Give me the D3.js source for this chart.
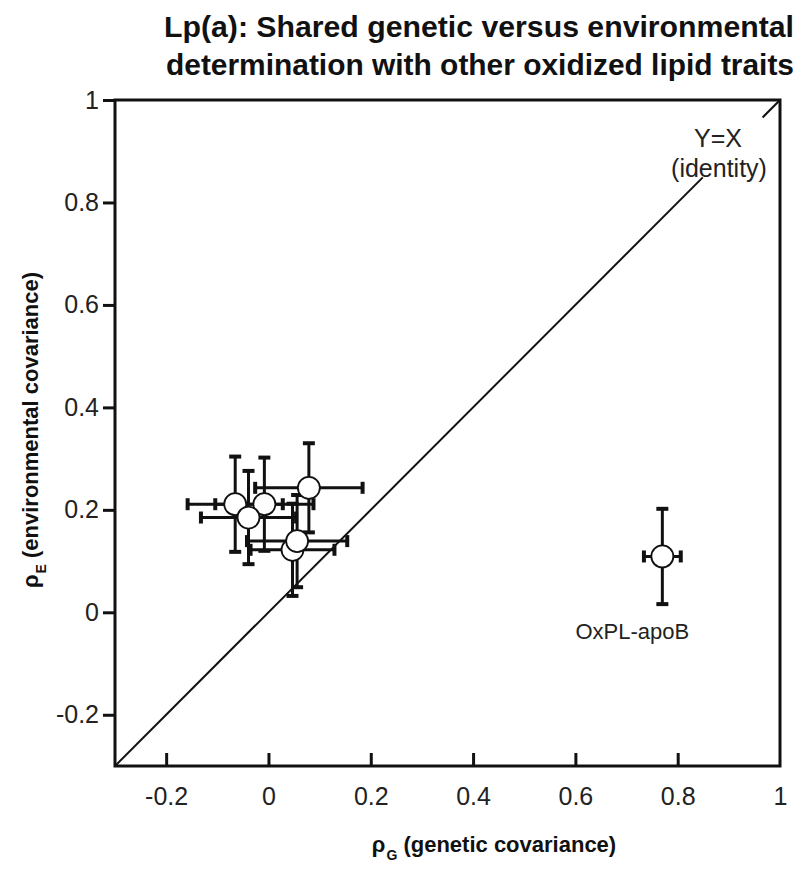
<!DOCTYPE html>
<html><head><meta charset="utf-8">
<script src="https://cdn.jsdelivr.net/npm/d3@7"></script>
<style>body{margin:0;background:#fff}svg{display:block}text{font-family:"Liberation Sans",Arial,Helvetica,sans-serif}</style>
</head><body><svg id="c" width="800" height="870"></svg>
<script>
// Data
const traits = ["T1","T2","T3","T4","T5","T6","OxPL-apoB"];
const rhoG   = [-0.065,-0.008,-0.039,0.079,0.047,0.056,0.770];
const rhoGerr= [0.093,0.096,0.093,0.105,0.082,0.098,0.036];
const rhoE   = [0.211,0.211,0.185,0.243,0.122,0.139,0.109];
const rhoEerr= [0.093,0.091,0.091,0.087,0.090,0.090,0.093];
const tickVals = [-0.2,0,0.2,0.4,0.6,0.8,1];
const tickLabels = ["-0.2","0","0.2","0.4","0.6","0.8","1"];
const domain = [-0.3,1];

const svg = d3.select("#c");
const L=115,R=780,T=100,B=766;
const x = d3.scaleLinear().domain(domain).range([L,R]);
const y = d3.scaleLinear().domain(domain).range([B,T]);
const fmt = d => tickLabels[tickVals.indexOf(d)];

// Title
const title = ["Lp(a): Shared genetic versus environmental","determination with other oxidized lipid traits"];
svg.selectAll("text.title").data(title).join("text").attr("class","title")
  .attr("x",794).attr("y",(d,i)=>37+i*38).attr("text-anchor","end")
  .attr("font-size",30).attr("font-weight","bold").attr("fill","#111")
  .attr("textLength",(d,i)=>i===0?630:628).attr("lengthAdjust","spacingAndGlyphs")
  .text(d=>d);

// identity line with gap for label
const g = svg.append("g");
const seg = [[domain[0],0.849],[0.966,domain[1]]];
g.selectAll("line.id").data(seg).join("line").attr("class","id")
  .attr("x1",d=>x(d[0])).attr("y1",d=>y(d[0])).attr("x2",d=>x(d[1])).attr("y2",d=>y(d[1]))
  .attr("stroke","#111").attr("stroke-width",2);
g.append("text").attr("x",718).attr("y",147).attr("text-anchor","middle").attr("font-size",25).attr("fill","#222").text("Y=X");
g.append("text").attr("x",719).attr("y",177).attr("text-anchor","middle").attr("font-size",25).attr("fill","#222").text("(identity)");

// Axes
const xAxis = d3.axisBottom(x).tickValues(tickVals).tickSize(-13).tickPadding(21).tickFormat(fmt);
const yAxis = d3.axisLeft(y).tickValues(tickVals).tickSize(12).tickPadding(4).tickFormat(fmt);
const gx = svg.append("g").attr("transform",`translate(0,${B})`).call(xAxis);
const gy = svg.append("g").attr("transform",`translate(${L},0)`).call(yAxis);
[gx,gy].forEach(a=>{
  a.select(".domain").remove();
  a.selectAll(".tick line").attr("stroke","#111").attr("stroke-width",3);
  a.selectAll(".tick text").attr("font-size",25).attr("fill","#222").attr("font-family","Liberation Sans, Arial, sans-serif");
});
gx.selectAll(".tick").filter(d=>d===1).select("line").remove();
// frame
svg.append("rect").attr("x",L).attr("y",T).attr("width",R-L).attr("height",B-T)
  .attr("fill","none").attr("stroke","#111").attr("stroke-width",3);

// error bars
const idx = d3.range(traits.length);
const eb = svg.append("g").attr("stroke","#111");
const cap = 6;
idx.forEach(i=>{
  const cx=x(rhoG[i]), cy=y(rhoE[i]);
  const x0=x(rhoG[i]-rhoGerr[i]), x1=x(rhoG[i]+rhoGerr[i]);
  const y0=y(rhoE[i]-rhoEerr[i]), y1=y(rhoE[i]+rhoEerr[i]);
  eb.append("line").attr("x1",x0).attr("x2",x1).attr("y1",cy).attr("y2",cy).attr("stroke-width",3);
  eb.append("line").attr("x1",cx).attr("x2",cx).attr("y1",y0).attr("y2",y1).attr("stroke-width",3);
  [x0,x1].forEach(v=>eb.append("line").attr("x1",v).attr("x2",v).attr("y1",cy-cap).attr("y2",cy+cap).attr("stroke-width",4));
  [y0,y1].forEach(v=>eb.append("line").attr("y1",v).attr("y2",v).attr("x1",cx-cap).attr("x2",cx+cap).attr("stroke-width",4));
});
// points
svg.append("g").selectAll("circle").data(idx).join("circle")
  .attr("cx",i=>x(rhoG[i])).attr("cy",i=>y(rhoE[i])).attr("r",11)
  .attr("fill","#fff").attr("stroke","#111").attr("stroke-width",1.8);

// point label
svg.append("text").attr("x",x(rhoG[6])-30).attr("y",y(rhoE[6])+83).attr("text-anchor","middle")
  .attr("font-size",22).attr("fill","#222").text(traits[6]);

// axis titles
const xt = svg.append("text").attr("x",494).attr("y",852).attr("text-anchor","middle").attr("font-size",22).attr("font-weight","bold").attr("fill","#111");
xt.append("tspan").text("ρ");
xt.append("tspan").attr("font-size",14).attr("dy",8).attr("dx",1).text("G");
xt.append("tspan").attr("dy",-8).text(" (genetic covariance)");
const yt = svg.append("text").attr("transform","translate(38,430) rotate(-90)").attr("text-anchor","middle").attr("font-size",22).attr("font-weight","bold").attr("fill","#111");
yt.append("tspan").text("ρ");
yt.append("tspan").attr("font-size",14).attr("dy",8).attr("dx",1).text("E");
yt.append("tspan").attr("dy",-8).text(" (environmental covariance)");
</script></body></html>
